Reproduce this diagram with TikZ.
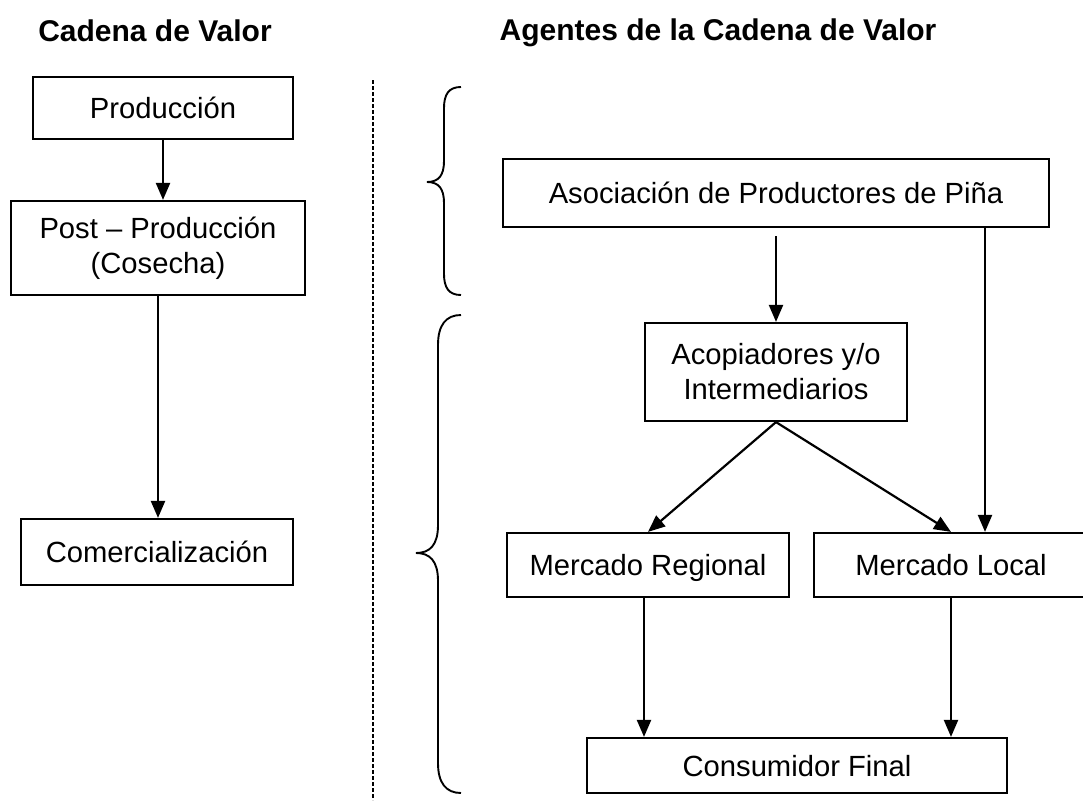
\documentclass[tikz,border=0pt]{standalone}
\usepackage{fontspec}
\setmainfont{Liberation Sans}
\usetikzlibrary{arrows.meta}
\tikzset{
  box/.style={draw, line width=2.2pt, inner sep=0pt, align=center,
    font=\fontsize{29.2}{35}\selectfont},
  one/.style={text height=25pt, text depth=4pt},
  arr/.style={line width=2.2pt, -{Triangle[length=17pt,width=14pt]}},
  ttl/.style={font=\fontsize{30}{34}\selectfont\bfseries, inner sep=0pt},
  brace/.style={line width=1.9pt},
  divider/.style={line width=1.2pt, dash pattern=on 4pt off 2pt}
}
\begin{document}
\begin{tikzpicture}[x=1pt,y=-1pt]
\useasboundingbox (0,0) rectangle (1083,800);
% titles
\node[ttl] (t1) at (155,31) {Cadena de Valor};
\node[ttl] (t2) at (718,33) {Agentes de la Cadena de Valor};
% divider
\coordinate (d1) at (373,80);
\coordinate (d2) at (373,800);
\draw[divider] (d1) -- (d2);
% left column
\node[box, one, minimum width=260pt, minimum height=62pt] (prod) at (163,108) {Producción};
\node[box, minimum width=294pt, minimum height=94pt] (post) at (158,248) {Post – Producción\\(Cosecha)};
\node[box, one, minimum width=272pt, minimum height=66pt] (com) at (157,552) {Comercialización};
\draw[arr] (prod.south) -- (prod.south |- post.north);
\draw[arr] (post.south) -- (post.south |- com.north);
% braces
\draw[brace] (461,87) .. controls (449,87) and (444,94) .. (444,108) -- (444,161)
  .. controls (444,175) and (439,182) .. (427,182)
  .. controls (439,182) and (444,189) .. (444,203) -- (444,274)
  .. controls (444,288) and (449,295) .. (461,295);
\draw[brace] (461,315) .. controls (446,315) and (438,325) .. (438,345) -- (438,525)
  .. controls (438,545) and (430,553) .. (416,553)
  .. controls (430,553) and (438,561) .. (438,581) -- (438,763)
  .. controls (438,783) and (446,793) .. (461,793);
% right column
\node[box, one, minimum width=546pt, minimum height=68pt] (asoc) at (776,193) {Asociación de Productores de Piña};
\node[box, minimum width=262pt, minimum height=98pt] (acop) at (776,372) {Acopiadores y/o\\Intermediarios};
\node[box, one, minimum width=282pt, minimum height=64pt] (mr) at (648,565) {Mercado Regional};
\node[box, one, minimum width=274pt, minimum height=64pt] (ml) at (951,565) {Mercado Local};
\node[box, one, minimum width=420pt, minimum height=55pt] (cons) at (797,765.5) {Consumidor Final};
\draw[arr, shorten <=8pt] (asoc.south) -- (acop.north);
\draw[arr] (asoc.south -| 985,0) -- (ml.north -| 985,0);
\draw[arr] (acop.south) -- (mr.north);
\draw[arr] (acop.south) -- (ml.north);
\draw[arr] (mr.south -| 644,0) -- (cons.north -| 644,0);
\draw[arr] (ml.south) -- (ml.south |- cons.north);
\end{tikzpicture}
\end{document}
